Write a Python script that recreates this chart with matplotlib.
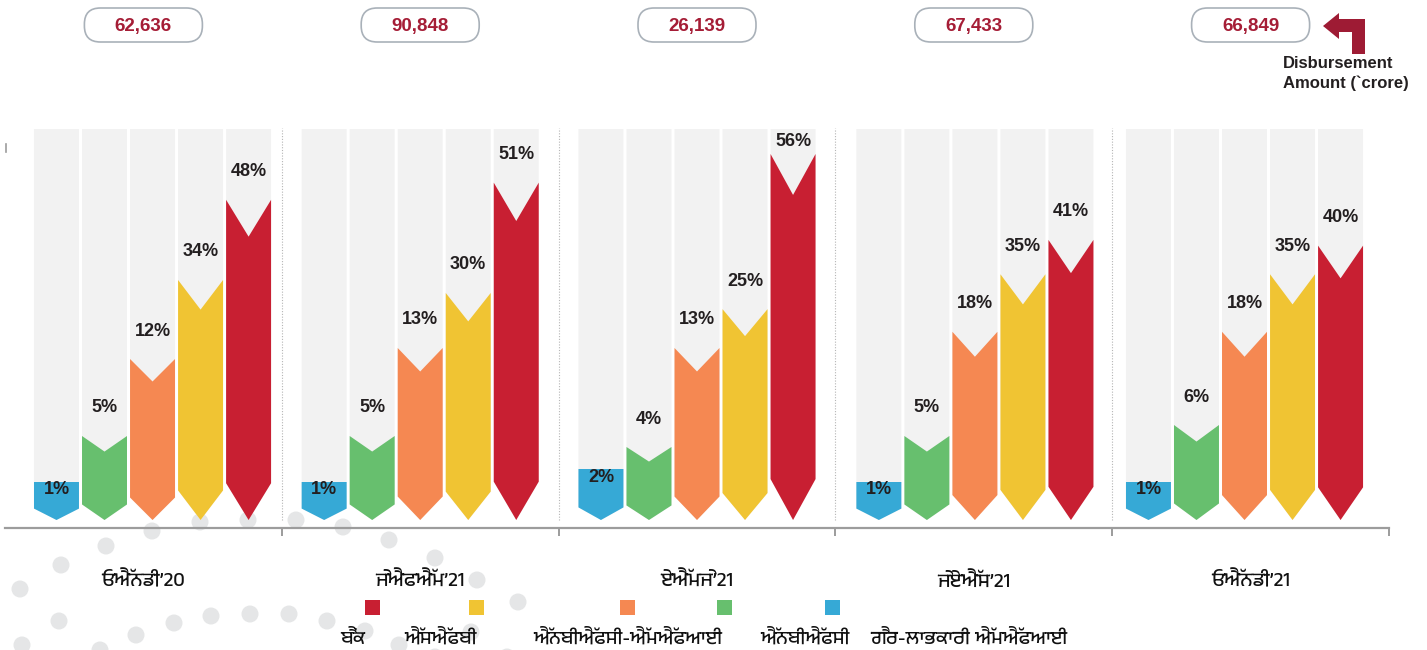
import matplotlib
matplotlib.use("Agg")
import matplotlib.pyplot as plt
import numpy as np
from matplotlib.patches import Polygon, FancyBboxPatch, Circle, Rectangle

plt.rcParams["font.family"] = ["Liberation Sans", "DejaVu Sans"]
PUNJABI = ["Anek Gurmukhi", "Liberation Sans", "DejaVu Sans"]

# ---- data (share of disbursement by lender type, %) ----
months = ["ਓਐੱਨਡੀ’20", "ਜੇਐਫਐੱਮ’21", "ਏਐੱਮਜੇ’21", "ਜੇਏਐੱਸ’21", "ਓਐੱਨਡੀ’21"]
disbursement = ["62,636", "90,848", "26,139", "67,433", "66,849"]

lenders = ["ਬੈਂਕ", "ਐੱਸਐੱਫਬੀ", "ਐੱਨਬੀਐੱਫਸੀ-ਐੱਮਐੱਫਆਈ", "ਐੱਨਬੀਐੱਫਸੀ", "ਗੈਰ-ਲਾਭਕਾਰੀ ਐੱਮਐੱਫਆਈ"]
bank = [48, 51, 56, 41, 40]
sfb = [34, 30, 25, 35, 35]
nbfc_mfi = [12, 13, 13, 18, 18]
nbfc = [5, 5, 4, 5, 6]
nfp_mfi = [1, 1, 2, 1, 1]

colors = ["#c81f32", "#f0c433", "#f58852", "#67bf6e", "#36a9d6"]
series = [bank, sfb, nbfc_mfi, nbfc, nfp_mfi]

# the infographic stretches small shares, so the y axis is a non-linear scale
vk = [-1, 0, 1, 2, 5, 13, 34, 56, 62]
hk = [-38, 0, 38, 51, 84, 172, 240, 366, 400]


def fwd(v):
    return np.interp(v, vk, hk)


def inv(h):
    return np.interp(h, hk, vk)


COL_TOP = 391  # height of the grey columns (scale units)

fig = plt.figure(figsize=(14.27, 6.5), dpi=100)

# background / annotation layer in pixel units
bg = fig.add_axes([0, 0, 1, 1], zorder=0)
bg.set_xlim(0, 1427)
bg.set_ylim(650, 0)
bg.axis("off")

ax = fig.add_axes([5 / 1427, 122 / 650, 1384 / 1427, 400 / 650], zorder=1)
ax.patch.set_alpha(0)
ax.set_yscale("function", functions=(fwd, inv))
ax.set_xlim(0, 5)
ax.set_ylim(inv(-8), inv(392))

# decorative dots
dots = [(20, 589), (61, 565), (106, 546), (152, 531), (200, 522), (248, 520),
        (296, 520), (343, 527), (389, 540), (435, 558), (477, 580), (518, 602),
        (59, 621), (22, 645), (100, 650), (136, 635), (174, 623), (211, 616),
        (250, 614), (289, 614), (327, 621), (365, 631), (399, 645), (471, 632),
        (435, 657), (507, 657)]
for x, y in dots:
    bg.add_patch(Circle((x, y), 8.5, color="#e5e6e7", lw=0))

bar_w = 0.1625
pitch = 0.1735
start = (1 - 4 * pitch - bar_w) / 2
group_shift = [0.033, 0, 0, 0.004, -0.022]

for i in range(len(months)):
    for j, k in enumerate(range(4, -1, -1)):
        v = series[k][i]
        x0 = i + start + group_shift[i] + j * pitch
        x1 = x0 + bar_w
        xc = (x0 + x1) / 2
        top = fwd(v)
        d = 8 + 0.09 * top
        # grey column
        ax.add_patch(Polygon([(x0, inv(COL_TOP)), (x1, inv(COL_TOP)), (x1, inv(d)),
                              (xc, 0), (x0, inv(d))], closed=True,
                             fc="#f2f2f2", ec="none", zorder=2))
        if k == 4:
            pts = [(x0, v), (x1, v), (x1, inv(d)), (xc, 0), (x0, inv(d))]
        else:
            pts = [(x0, v), (xc, inv(top - d)), (x1, v), (x1, inv(d)),
                   (xc, 0), (x0, inv(d))]
        ax.add_patch(Polygon(pts, closed=True, fc=colors[k], ec="none", zorder=3))
        if k == 4:
            ly = inv(top - 8)
        else:
            ly = inv(min(top + 28, COL_TOP - 12))
        ax.text(xc, ly, f"{v}%", ha="center", va="center", fontsize=13,
                fontweight="bold", color="#231f20", zorder=4)

# separators and axis line
for i in range(1, 5):
    ax.axvline(i, ymin=0.02, ymax=1, ls=(0, (1, 1.5)), color="#b5b5b5",
               lw=0.8, zorder=1)
for s in ["top", "right", "left"]:
    ax.spines[s].set_visible(False)
ax.spines["bottom"].set_color("#9c9c9c")
ax.spines["bottom"].set_linewidth(1.6)
ax.set_xticks(range(1, 6))
ax.set_xticklabels([])
ax.tick_params(axis="x", direction="out", length=6, width=1.4, color="#9c9c9c")
ax.set_yticks([])
bg.plot([6, 6], [144, 152], color="#9c9c9c", lw=1.2)

# disbursement boxes and month labels
for i, (m, amt) in enumerate(zip(months, disbursement)):
    gx = ax.transData.transform((i + 0.5, 1))[0]
    bg.add_patch(FancyBboxPatch((gx - 59, 8), 118, 34,
                                boxstyle="round,pad=0,rounding_size=16",
                                fc="white", ec="#a9b1b9", lw=1.2))
    bg.text(gx, 26, amt, ha="center", va="center", fontsize=13.5,
            fontweight="bold", color="#a51d36")
    bg.text(gx, 580, m, ha="center", va="center", fontsize=14.5,
            family=PUNJABI, color="#111111")

# bent arrow pointing at the last box
arrow = [(1323, 26), (1339, 13), (1339, 19), (1365, 19), (1365, 54), (1352, 54),
         (1352, 32), (1339, 32), (1339, 39)]
bg.add_patch(Polygon(arrow, closed=True, fc="#9e1b34", ec="none"))
bg.text(1283, 63, "Disbursement", ha="left", va="center", fontsize=12,
        fontweight="bold", color="#231f20")
bg.text(1283, 83, "Amount (`crore)", ha="left", va="center", fontsize=12,
        fontweight="bold", color="#231f20")

# legend
sq_x = [372, 476, 627, 724, 832]
lab_x = [353, 441, 628, 805, 969]
for name, c, sx, lx in zip(lenders, colors, sq_x, lab_x):
    bg.add_patch(Rectangle((sx - 7.5, 599.5), 15, 15, fc=c, ec="none"))
    bg.text(lx, 637, name, ha="center", va="center", fontsize=14,
            family=PUNJABI, color="#111111")

fig.savefig("out.png", dpi=100)
